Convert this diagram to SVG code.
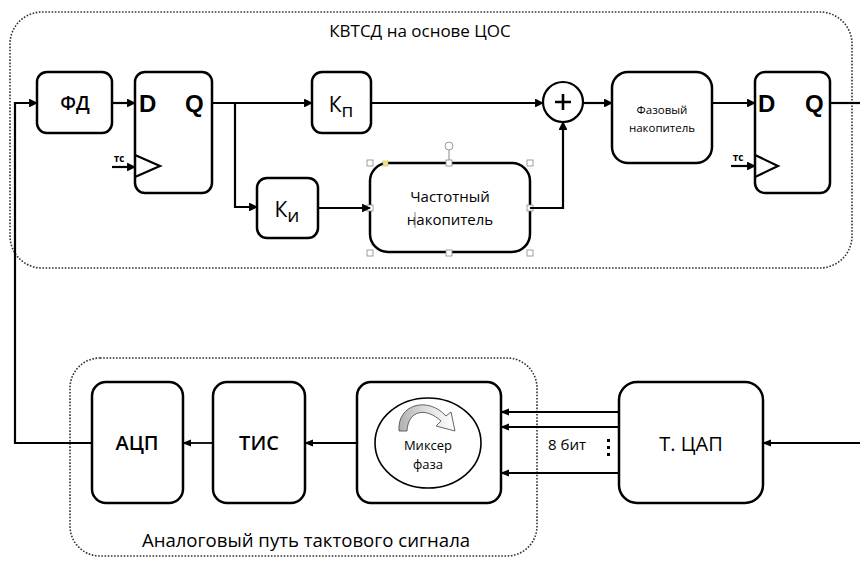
<svg xmlns="http://www.w3.org/2000/svg" width="860" height="561" viewBox="0 0 860 561">
<defs>
<marker id="ah" viewBox="0 0 10 10" refX="9" refY="5" markerWidth="4" markerHeight="4" orient="auto" markerUnits="strokeWidth">
<path d="M0,0 L10,5 L0,10 Z" fill="#000"/>
</marker>
<marker id="ahs" viewBox="0 0 10 10" refX="9" refY="5" markerWidth="5" markerHeight="5" orient="auto" markerUnits="strokeWidth">
<path d="M0,1 L10,5 L0,9 Z" fill="#000"/>
</marker>
<linearGradient id="g" x1="0" y1="0" x2="1" y2="0">
<stop offset="0" stop-color="#b0b0b0"/>
<stop offset="0.5" stop-color="#e0e0e0"/>
<stop offset="1" stop-color="#fff"/>
</linearGradient>
</defs>
<style>
.box{fill:#fff;stroke:#000;stroke-width:2.5}
.dot{fill:none;stroke:#333;stroke-width:1.6;stroke-dasharray:1.6 1.6}
.ln{fill:none;stroke:#000;stroke-width:2.2}
.thin{fill:none;stroke:#000;stroke-width:1.8}
.t{font-family:"Open Sans","Noto Sans","DejaVu Sans",sans-serif;fill:#000;text-anchor:middle}
.dq{font-family:"Liberation Sans",Arial,sans-serif;font-weight:bold;font-size:24px;fill:#000}
.h{fill:#fff;stroke:#888;stroke-width:0.8}
</style>
<rect width="860" height="561" fill="#fff"/>

<g id="dsp-frame">
<rect class="dot" x="10" y="12" width="842" height="256" rx="32"/>
<text class="t" x="420" y="37" font-size="17">КВТСД на основе ЦОС</text>
</g>
<g id="analog-frame">
<rect class="dot" x="70" y="358" width="467" height="198" rx="30"/>
<text class="t" x="306" y="547" font-size="18.6">Аналоговый путь тактового сигнала</text>
</g>

<g id="fd">
<rect class="box" x="37" y="72" width="75" height="61" rx="10"/>
<text class="t" x="75" y="110" font-size="19" font-weight="600">ФД</text>
</g>
<g id="ff1">
<rect class="box" x="135" y="72" width="77" height="121" rx="10"/>
<text class="dq" x="139" y="112">D</text>
<text class="dq" x="185" y="112">Q</text>
<path class="ln" d="M135,155 L160,166 L135,177"/>
<text class="t" x="119" y="162" font-size="10" font-weight="bold">тс</text>
</g>
<g id="kp">
<rect class="box" x="312" y="72" width="59" height="61" rx="10"/>
<text class="t" x="341" y="112" font-size="21">К<tspan font-size="19" dy="5">п</tspan></text>
</g>
<g id="ki">
<rect class="box" x="257" y="178" width="61" height="60" rx="10"/>
<text class="t" x="287" y="217" font-size="21">К<tspan font-size="19" dy="5">и</tspan></text>
</g>
<g id="freq-acc">
<rect class="box" x="370" y="163" width="160" height="89" rx="18"/>
<text class="t" x="450" y="202" font-size="15">Частотный</text>
<text class="t" x="450" y="225" font-size="15">накопитель</text>
<line x1="415" y1="212" x2="415" y2="228" stroke="#888" stroke-width="1"/>
<line x1="449" y1="150" x2="449" y2="162" stroke="#888" stroke-width="1"/>
<circle cx="449" cy="146" r="4" fill="#fff" stroke="#999" stroke-width="1"/>
<rect class="h" x="367" y="160" width="6" height="6"/>
<rect class="h" x="446" y="160" width="6" height="6"/>
<rect class="h" x="527" y="160" width="6" height="6"/>
<rect class="h" x="367" y="205" width="6" height="6"/>
<rect class="h" x="527" y="205" width="6" height="6"/>
<rect class="h" x="367" y="250" width="6" height="6"/>
<rect class="h" x="446" y="250" width="6" height="6"/>
<rect class="h" x="527" y="250" width="6" height="6"/>
<rect x="383" y="161" width="5" height="5" fill="#f5e38a" stroke="#c9b45a" stroke-width="0.6"/>
</g>
<g id="sum">
<circle cx="563" cy="102" r="20" fill="#fff" stroke="#000" stroke-width="2.2"/>
<path d="M563,94 V110 M555,102 H571" stroke="#000" stroke-width="2.6"/>
</g>
<g id="phase-acc">
<rect class="box" x="612" y="72" width="100" height="91" rx="16"/>
<text class="t" x="662" y="114" font-size="11.5">Фазовый</text>
<text class="t" x="662" y="132" font-size="11.5">накопитель</text>
</g>
<g id="ff2">
<rect class="box" x="755" y="72" width="75" height="121" rx="10"/>
<text class="dq" x="758" y="112">D</text>
<text class="dq" x="805" y="112">Q</text>
<path class="ln" d="M755,155 L778,166 L755,177"/>
<text class="t" x="738" y="161" font-size="10" font-weight="bold">тс</text>
</g>

<g id="adc">
<rect class="box" x="92" y="382" width="91" height="121" rx="14"/>
<text class="t" x="137" y="450" font-size="20" font-weight="600">АЦП</text>
</g>
<g id="tis">
<rect class="box" x="213" y="382" width="92" height="121" rx="14"/>
<text class="t" x="259" y="450" font-size="20" font-weight="600">ТИС</text>
</g>
<g id="mixer">
<rect class="box" x="357" y="382" width="144" height="121" rx="14"/>
<ellipse cx="428" cy="443" rx="53" ry="45" fill="#fff" stroke="#000" stroke-width="1.6"/>
<path d="M399,431 C397,404 428,396 446,416 L451,412 L455,431 L436,426 L441,421 C426,407 408,410 407,431 Z" fill="url(#g)" stroke="#555" stroke-width="0.9"/>
<text class="t" x="428" y="450" font-size="13" fill="#222">Миксер</text>
<text class="t" x="428" y="469" font-size="13" fill="#222">фаза</text>
</g>
<g id="dac">
<rect class="box" x="619" y="382" width="144" height="121" rx="18"/>
<text class="t" x="691" y="451" font-size="20">Т. ЦАП</text>
</g>
<g id="bus-label">
<text class="t" x="567" y="450" font-size="15">8 бит</text>
<rect x="607" y="439" width="3" height="3" fill="#000"/>
<rect x="607" y="446" width="3" height="3" fill="#000"/>
<rect x="607" y="453" width="3" height="3" fill="#000"/>
</g>

<g id="connectors">
<path class="ln" d="M92,443 H15 V103 H37" marker-end="url(#ah)"/>
<path class="ln" d="M112,103 H135" marker-end="url(#ah)"/>
<path class="ln" d="M212,103 H312" marker-end="url(#ah)"/>
<path class="ln" d="M235,103 V207 H257" marker-end="url(#ah)"/>
<path class="ln" d="M371,103 H543" marker-end="url(#ah)"/>
<path class="ln" d="M318,208 H370" marker-end="url(#ah)"/>
<path class="ln" d="M530,208 H563 V122" marker-end="url(#ah)"/>
<path class="ln" d="M583,103 H612" marker-end="url(#ah)"/>
<path class="ln" d="M712,103 H755" marker-end="url(#ah)"/>
<path class="ln" d="M830,103 H860"/>
<path class="ln" d="M112,167 H135" marker-end="url(#ah)"/>
<path class="ln" d="M731,166 H755" marker-end="url(#ah)"/>
<path class="thin" d="M357,443 H305" marker-end="url(#ahs)"/>
<path class="thin" d="M213,443 H183" marker-end="url(#ahs)"/>
<path class="thin" d="M619,412 H501" marker-end="url(#ahs)"/>
<path class="thin" d="M619,427 H501" marker-end="url(#ahs)"/>
<path class="thin" d="M619,473 H501" marker-end="url(#ahs)"/>
<path class="thin" d="M860,443 H763" marker-end="url(#ahs)"/>
</g>
</svg>
